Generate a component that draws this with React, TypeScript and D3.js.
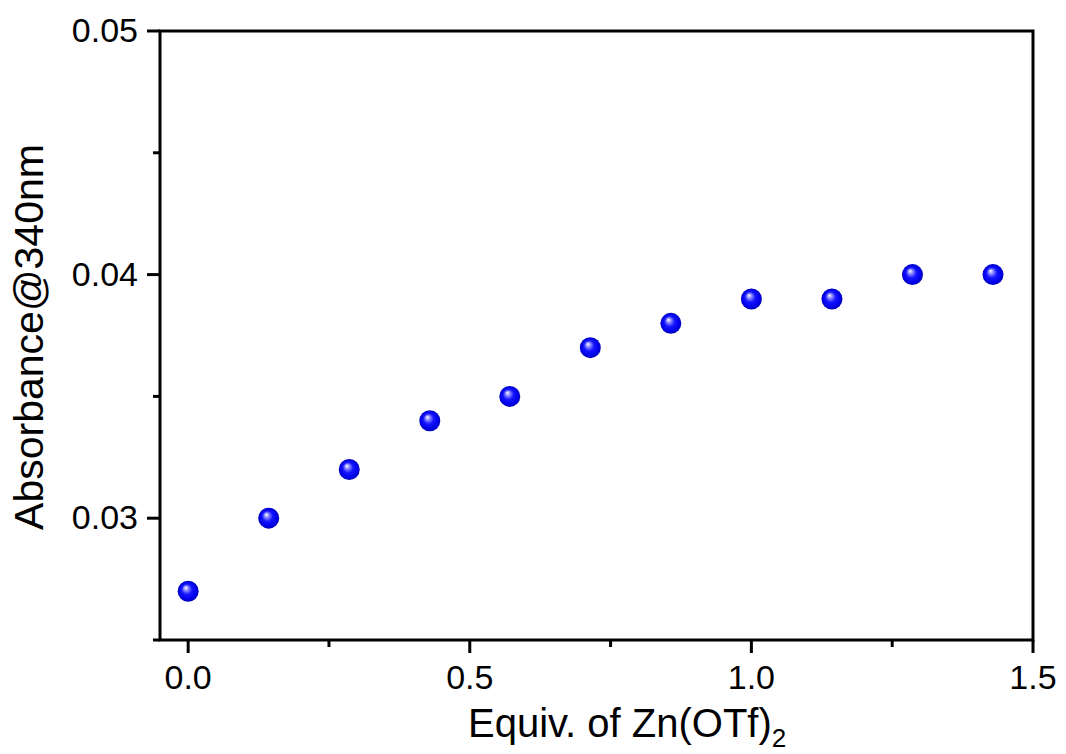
import React from "react";
import * as d3 from "d3";

const equivalents = [0, 0.143, 0.286, 0.429, 0.571, 0.714, 0.857, 1.0, 1.143, 1.286, 1.429];
const absorbance = [0.027, 0.03, 0.032, 0.034, 0.035, 0.037, 0.038, 0.039, 0.039, 0.04, 0.04];
const xMajorTicks = [0, 0.5, 1.0, 1.5];
const xMinorTicks = [0.25, 0.75, 1.25];
const yMajorTicks = [0.03, 0.04, 0.05];
const yMinorTicks = [0.025, 0.035, 0.045];
const xTickLabels = ["0.0", "0.5", "1.0", "1.5"];
const yTickLabels = ["0.03", "0.04", "0.05"];

const W = 1066;
const H = 754;
const L = 160, R = 1033, T = 31, B = 640;
const FONT = "Arial, 'Liberation Sans', Helvetica, sans-serif";

export default function App() {
  const x = d3.scaleLinear().domain([-0.05, 1.5]).range([L, R]);
  const y = d3.scaleLinear().domain([0.025, 0.05]).range([B, T]);
  const sw = 3;
  return (
    <svg width={W} height={H} style={{ position: "absolute", left: 0, top: 0, display: "block", background: "#fff" }}>
      <defs>
        <radialGradient id="sphere" cx="0.5" cy="0.5" r="0.5" fx="0.38" fy="0.32">
          <stop offset="0" stopColor="#ffffff" />
          <stop offset="0.22" stopColor="#8c8cff" />
          <stop offset="0.5" stopColor="#1414ff" />
          <stop offset="0.85" stopColor="#0000e6" />
          <stop offset="1" stopColor="#0000b0" />
        </radialGradient>
      </defs>
      <rect x={0} y={0} width={W} height={H} fill="#fff" />
      <rect x={L} y={T} width={R - L} height={B - T} fill="none" stroke="#000" strokeWidth={sw} />
      {xMajorTicks.map((t) => (
        <line key={"xM" + t} x1={x(t)} x2={x(t)} y1={B} y2={B + 13} stroke="#000" strokeWidth={sw} />
      ))}
      {xMinorTicks.map((t) => (
        <line key={"xm" + t} x1={x(t)} x2={x(t)} y1={B} y2={B + 7} stroke="#000" strokeWidth={sw} />
      ))}
      {xMajorTicks.map((t, i) => (
        <text key={"xl" + t} x={x(t)} y={689} textAnchor="middle" fontFamily={FONT} fontSize={34} fill="#000">
          {xTickLabels[i]}
        </text>
      ))}
      {yMajorTicks.map((t) => (
        <line key={"yM" + t} x1={L - 13} x2={L} y1={y(t)} y2={y(t)} stroke="#000" strokeWidth={sw} />
      ))}
      {yMinorTicks.map((t) => (
        <line key={"ym" + t} x1={L - 7} x2={L} y1={y(t)} y2={y(t)} stroke="#000" strokeWidth={sw} />
      ))}
      {yMajorTicks.map((t, i) => (
        <text key={"yl" + t} x={138} y={y(t) + 11} textAnchor="end" fontFamily={FONT} fontSize={34} fill="#000">
          {yTickLabels[i]}
        </text>
      ))}
      <text x={468} y={737} fontFamily={FONT} fontSize={40} fill="#000">
        Equiv. of Zn(OTf)
        <tspan fontSize={26} dy={10}>2</tspan>
      </text>
      <text
        transform={`translate(43, ${337}) rotate(-90)`}
        textAnchor="middle"
        fontFamily={FONT}
        fontSize={41}
        fill="#000"
      >
        Absorbance@340nm
      </text>
      {equivalents.map((v, i) => (
        <circle key={"p" + i} cx={x(v)} cy={y(absorbance[i])} r={10.5} fill="url(#sphere)" />
      ))}
    </svg>
  );
}
